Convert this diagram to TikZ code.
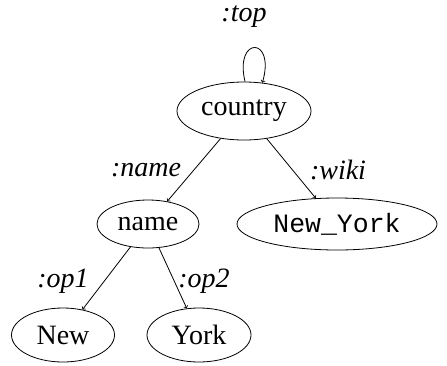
\documentclass[tikz,border=0pt]{standalone}
\usepackage{fontspec}
\setmainfont{Liberation Serif}
\setmonofont{Liberation Mono}
\usetikzlibrary{shapes.geometric}
\begin{document}
\begin{tikzpicture}[x=1pt,y=-1pt,line width=0.8pt,
  nd/.style={draw,ellipse,inner sep=0pt,font=\fontsize{28}{32}\selectfont},
  lbl/.style={font=\fontsize{28}{32}\selectfont\itshape,inner sep=0pt},
  arr/.style={->}]
\useasboundingbox (0,0) rectangle (447,365);
\node[nd,minimum width=134pt,minimum height=58pt] (country) at (244,111) {country};
\node[nd,minimum width=102pt,minimum height=48pt] (name) at (148,224) {name};
\node[nd,minimum width=200pt,minimum height=52pt,font=\fontsize{26.5}{30}\selectfont\ttfamily] (ny) at (337,224) {New\_York};
\node[nd,minimum width=103pt,minimum height=54pt] (new) at (63,335) {New};
\node[nd,minimum width=104pt,minimum height=54pt] (york) at (199,335) {York};
\draw[arr] (country) -- (name);
\draw[arr] (country) -- (ny);
\draw[arr] (name) -- (new);
\draw[arr] (name) -- (york);
\draw[arr] (country.88) .. controls (234,36) and (276,36) .. (country.57);
\node[lbl] (ltop) at (244,17) {:top};
\node[lbl] (lname) at (146,170) {:name};
\node[lbl] (lwiki) at (338,170) {:wiki};
\node[lbl] (lop1) at (63,281) {:op1};
\node[lbl] (lop2) at (204,281) {:op2};
\end{tikzpicture}
\end{document}
